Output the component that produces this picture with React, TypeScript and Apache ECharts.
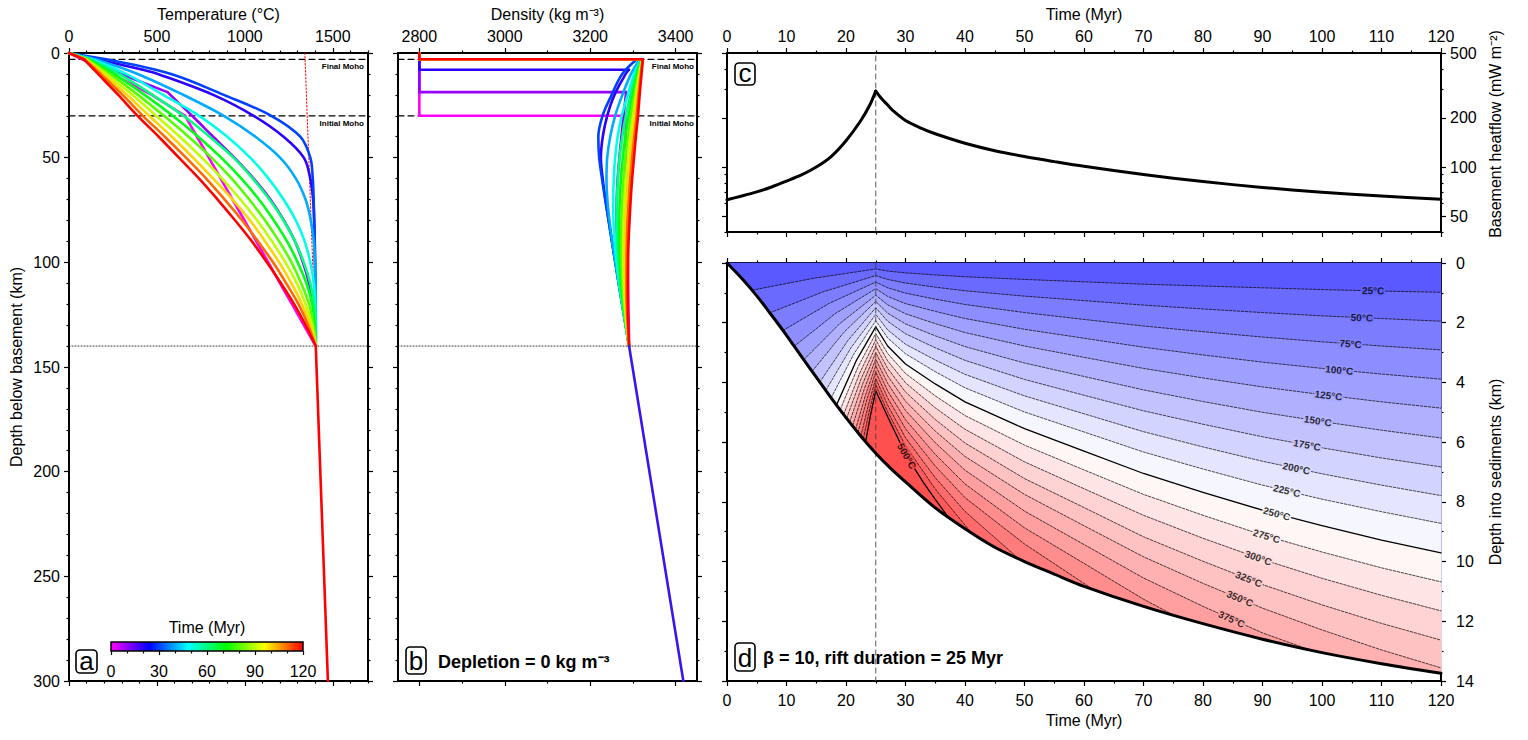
import React, { useEffect, useRef } from "react";
import * as echarts from "echarts";

const FONT = "'Liberation Sans', Arial, Helvetica, sans-serif";

// ================= Panel a: geotherms (temperature vs depth below basement) =================
const GEOTHERM_TIMES = [0, 10, 20, 30, 40, 50, 60, 70, 80, 90, 100, 110, 120];
const GEOTHERM_MOHO = [30, 18.7, 8, 3, 3, 3, 3, 3, 3, 3, 3, 3, 3];
const DEPTH_T0 = [0, 3, 10, 20, 30, 40, 50, 60, 70, 80, 90, 100, 110, 120, 130, 140];
const TEMP_T0 = [0, 75, 245, 470, 660, 728, 795, 863, 930, 998, 1065, 1133, 1200, 1268, 1335, 1403];
const DEPTH_T10 = [0, 3, 10, 18.7, 20, 30, 40, 50, 60, 70, 80, 90, 100, 110, 120, 130, 140];
const TEMP_T10 = [0, 90, 295, 560, 576, 700, 820, 940, 1050, 1145, 1222, 1285, 1330, 1365, 1390, 1400, 1403];
const DEPTH_T20 = [0, 3, 8, 10, 20, 30, 40, 50, 60, 70, 80, 90, 100, 110, 120, 130, 140];
const TEMP_T20 = [0, 160, 420, 505, 820, 1050, 1220, 1335, 1372, 1388, 1394, 1397, 1399, 1401, 1402, 1403, 1403];
const DEPTH_POSTRIFT = [0, 3, 10, 20, 30, 40, 50, 60, 70, 80, 90, 100, 110, 120, 130, 140];
const TEMP_T30 = [0, 210, 580, 880, 1150, 1315, 1372, 1386, 1391, 1394, 1397, 1399, 1401, 1402, 1403, 1403];
const TEMP_T40 = [0, 150, 390, 650, 880, 1060, 1200, 1290, 1345, 1375, 1392, 1399, 1402, 1403, 1403, 1403];
const TEMP_T50 = [0, 130, 325, 535, 740, 900, 1030, 1135, 1220, 1290, 1340, 1372, 1392, 1400, 1402, 1403];
const TEMP_T60 = [0, 118, 285, 475, 650, 800, 935, 1045, 1140, 1220, 1285, 1335, 1372, 1393, 1400, 1403];
const TEMP_T70 = [0, 110, 255, 430, 590, 735, 865, 980, 1080, 1165, 1240, 1300, 1350, 1383, 1397, 1403];
const TEMP_T80 = [0, 103, 232, 392, 540, 680, 810, 925, 1025, 1115, 1195, 1265, 1320, 1365, 1390, 1403];
const TEMP_T90 = [0, 97, 212, 360, 495, 630, 755, 870, 975, 1070, 1155, 1230, 1295, 1345, 1382, 1403];
const TEMP_T100 = [0, 92, 195, 330, 455, 585, 705, 820, 930, 1030, 1115, 1195, 1265, 1325, 1372, 1403];
const TEMP_T110 = [0, 88, 180, 305, 420, 545, 665, 780, 885, 985, 1075, 1160, 1235, 1305, 1360, 1403];
const TEMP_T120 = [0, 85, 165, 280, 390, 510, 625, 740, 845, 945, 1040, 1125, 1205, 1280, 1345, 1403];

// mantle adiabat (dotted above lithosphere base, solid below)
const ADIABAT_T = [1341, 1403, 1472];
const ADIABAT_DEPTH = [0, 140, 300];

// ================= Panel b: density =================
const DENS_DEPTH_T0 = [0, 30, 30, 40, 50, 60, 70, 80, 90, 100, 110, 120, 130, 140];
const DENS_T0 = [2800, 2800, 3282.4, 3283.1, 3284.0, 3284.8, 3285.5, 3286.3, 3287.1, 3287.9, 3288.7, 3289.4, 3290.3, 3291.0];
const DENS_DEPTH_T10 = [0, 18.7, 18.7, 20, 30, 40, 50, 60, 70, 80, 90, 100, 110, 120, 130, 140];
const DENS_T10 = [2800, 2800, 3284.1, 3283.4, 3278.1, 3273.1, 3268.2, 3264.3, 3262.1, 3261.8, 3263.1, 3266.4, 3270.6, 3276.1, 3283.2, 3291.0];
const DENS_DEPTH_T20 = [0, 8, 8, 10, 20, 30, 40, 50, 60, 70, 80, 90, 100, 110, 120, 130, 140];
const DENS_T20 = [2800, 2800, 3290.6, 3283.1, 3256.8, 3239.8, 3229.4, 3225.0, 3229.2, 3235.5, 3243.1, 3250.8, 3258.8, 3266.7, 3274.8, 3282.9, 3291.0];
const DENS_DEPTH_POSTRIFT = [0, 3, 3, 10, 20, 30, 40, 50, 60, 70, 80, 90, 100, 110, 120, 130, 140];
const DENS_T30 = [2800, 2800, 3309.5, 3274.9, 3250.2, 3228.9, 3219.0, 3221.0, 3227.6, 3235.2, 3243.1, 3250.8, 3258.8, 3266.7, 3274.8, 3282.9, 3291.0];
const DENS_T40 = [2800, 2800, 3316.0, 3295.6, 3275.3, 3258.4, 3246.8, 3239.8, 3238.1, 3240.2, 3245.1, 3251.4, 3258.8, 3266.6, 3274.7, 3282.9, 3291.0];
const DENS_T50 = [2800, 2800, 3318.2, 3302.7, 3287.9, 3273.7, 3264.3, 3258.3, 3255.1, 3253.9, 3254.4, 3257.1, 3261.8, 3267.7, 3275.0, 3283.0, 3291.0];
const DENS_T60 = [2800, 2800, 3319.5, 3307.1, 3294.4, 3283.5, 3275.2, 3268.7, 3264.9, 3262.6, 3262.1, 3263.1, 3265.8, 3269.9, 3275.8, 3283.2, 3291.0];
const DENS_T70 = [2800, 2800, 3320.4, 3310.4, 3299.3, 3290.1, 3282.3, 3276.3, 3272.0, 3269.2, 3268.1, 3268.0, 3269.6, 3272.3, 3276.9, 3283.5, 3291.0];
const DENS_T80 = [2800, 2800, 3321.2, 3312.9, 3303.5, 3295.5, 3288.3, 3282.3, 3278.0, 3275.2, 3273.5, 3272.9, 3273.5, 3275.6, 3278.8, 3284.3, 3291.0];
const DENS_T90 = [2800, 2800, 3321.8, 3315.0, 3307.0, 3300.4, 3293.8, 3288.4, 3284.0, 3280.6, 3278.5, 3277.3, 3277.3, 3278.3, 3281.0, 3285.2, 3291.0];
const DENS_T100 = [2800, 2800, 3322.4, 3316.9, 3310.3, 3304.8, 3298.7, 3293.8, 3289.5, 3285.5, 3282.8, 3281.6, 3281.1, 3281.6, 3283.2, 3286.3, 3291.0];
const DENS_T110 = [2800, 2800, 3322.8, 3318.5, 3313.0, 3308.6, 3303.1, 3298.2, 3293.8, 3290.5, 3287.7, 3286.0, 3284.9, 3284.8, 3285.4, 3287.6, 3291.0];
const DENS_T120 = [2800, 2800, 3323.1, 3320.2, 3315.7, 3311.9, 3306.9, 3302.5, 3298.2, 3294.8, 3292.1, 3289.8, 3288.7, 3288.1, 3288.1, 3289.2, 3291.0];
const DEEP_DENS = [3291, 3418];
const DEEP_DENS_DEPTH = [140, 300];

const MOHO_FINAL = 3;
const MOHO_INITIAL = 30;
const LITHOSPHERE_BASE = 140;

// ================= Panel c: basement heat flow =================
const HF_TIME = [0, 2.5, 5, 7.5, 10, 12.5, 15, 17.5, 20, 22.5, 24, 25, 26, 27, 28, 30, 32.5, 35, 40, 45, 50, 55, 60, 70, 80, 90, 100, 110, 120];
const HF_VALUE = [63, 66.5, 70.5, 75.5, 82, 89.5, 100, 116, 145, 193, 240, 292, 262, 240, 220, 193, 174, 160, 140, 126, 116, 108, 101, 90, 81.5, 75, 70, 66.5, 63.5];
const RIFT_END = 25;

// ================= Panel d: sediment temperatures =================
const BASEMENT_TIME = [0, 2.5, 5, 7.5, 10, 12.5, 15, 17.5, 20, 22.5, 25, 27.5, 30, 35, 40, 45, 50, 55, 60, 70, 80, 90, 100, 110, 120];
const BASEMENT_DEPTH = [0, 0.52, 1.1, 1.75, 2.42, 3.13, 3.82, 4.52, 5.18, 5.8, 6.37, 6.88, 7.33, 8.2, 8.9, 9.52, 10.0, 10.42, 10.83, 11.5, 12.08, 12.6, 13.05, 13.42, 13.74];

const ISO_25 = [[4.2, 0.91], [14.6, 0.51], [25, 0.2], [27, 0.27], [30, 0.33], [35, 0.4], [40, 0.46], [50, 0.55], [60, 0.63], [70, 0.71], [80, 0.77], [90, 0.83], [100, 0.89], [110, 0.94], [120, 0.98]];
const ISO_50 = [[7.2, 1.67], [16.1, 0.97], [25, 0.42], [27, 0.55], [30, 0.67], [35, 0.81], [40, 0.93], [50, 1.11], [60, 1.26], [70, 1.41], [80, 1.54], [90, 1.66], [100, 1.77], [110, 1.86], [120, 1.95]];
const ISO_75 = [[9.4, 2.26], [17.2, 1.35], [25, 0.64], [27, 0.83], [30, 1.01], [35, 1.21], [40, 1.39], [50, 1.66], [60, 1.89], [70, 2.11], [80, 2.3], [90, 2.48], [100, 2.64], [110, 2.78], [120, 2.91]];
const ISO_100 = [[11.3, 2.79], [18.15, 1.7], [25, 0.86], [27, 1.12], [30, 1.36], [35, 1.62], [40, 1.86], [50, 2.22], [60, 2.52], [70, 2.82], [80, 3.08], [90, 3.32], [100, 3.53], [110, 3.72], [120, 3.89]];
const ISO_125 = [[12.9, 3.24], [18.95, 2.03], [25, 1.08], [27, 1.4], [30, 1.7], [35, 2.03], [40, 2.33], [50, 2.78], [60, 3.16], [70, 3.53], [80, 3.85], [90, 4.15], [100, 4.41], [110, 4.65], [120, 4.86]];
const ISO_150 = [[14.3, 3.63], [19.65, 2.32], [25, 1.29], [27, 1.68], [30, 2.04], [35, 2.44], [40, 2.8], [50, 3.35], [60, 3.8], [70, 4.25], [80, 4.64], [90, 5.0], [100, 5.31], [110, 5.6], [120, 5.86]];
const ISO_175 = [[15.6, 3.99], [20.3, 2.6], [25, 1.5], [27, 1.95], [30, 2.37], [35, 2.84], [40, 3.26], [50, 3.9], [60, 4.43], [70, 4.95], [80, 5.4], [90, 5.82], [100, 6.19], [110, 6.53], [120, 6.83]];
const ISO_200 = [[16.6, 4.27], [20.8, 2.85], [25, 1.72], [27, 2.24], [30, 2.72], [35, 3.25], [40, 3.73], [50, 4.45], [60, 5.05], [70, 5.65], [80, 6.16], [90, 6.64], [100, 7.06], [110, 7.44], [120, 7.79]];
const ISO_225 = [[17.5, 4.52], [21.25, 3.07], [25, 1.93], [27, 2.51], [30, 3.04], [35, 3.64], [40, 4.18], [50, 4.99], [60, 5.66], [70, 6.33], [80, 6.9], [90, 7.44], [100, 7.91], [110, 8.33], [120, 8.72]];
const ISO_250 = [[18.4, 4.76], [21.7, 3.28], [25, 2.14], [27, 2.78], [30, 3.38], [35, 4.05], [40, 4.65], [50, 5.55], [60, 6.3], [70, 7.05], [80, 7.68], [90, 8.28], [100, 8.8], [110, 9.28], [120, 9.71]];
const ISO_275 = [[19.0, 4.92], [22.0, 3.49], [25, 2.36], [27, 3.03], [30, 3.7], [35, 4.45], [40, 5.11], [50, 6.1], [60, 6.93], [70, 7.75], [80, 8.45], [90, 9.11], [100, 9.68], [110, 10.21], [120, 10.68]];
const ISO_300 = [[19.6, 5.08], [22.3, 3.69], [25, 2.57], [27, 3.28], [30, 4.01], [35, 4.85], [40, 5.57], [50, 6.66], [60, 7.56], [70, 8.45], [80, 9.22], [90, 9.93], [100, 10.56], [110, 11.13], [120, 11.65]];
const ISO_325 = [[20.1, 5.2], [22.55, 3.87], [25, 2.79], [27, 3.53], [30, 4.32], [35, 5.24], [40, 6.03], [50, 7.22], [60, 8.19], [70, 9.17], [80, 9.99], [90, 10.77], [100, 11.45], [110, 12.07], [120, 12.63]];
const ISO_350 = [[20.6, 5.33], [22.8, 4.05], [25, 3.0], [27, 3.78], [30, 4.63], [35, 5.63], [40, 6.48], [50, 7.75], [60, 8.8], [70, 9.84], [80, 10.73], [90, 11.56], [100, 12.29], [110, 12.96], [120, 13.56]];
const ISO_375 = [[21.1, 5.45], [23.05, 4.23], [25, 3.22], [27, 4.03], [30, 4.94], [35, 6.02], [40, 6.94], [50, 8.31], [60, 9.43], [70, 10.55], [80, 11.5], [90, 12.39], [98, 12.96]];
const ISO_400 = [[21.6, 5.58], [23.3, 4.41], [25, 3.44], [27, 4.28], [30, 5.25], [35, 6.41], [40, 7.4], [50, 8.87], [60, 10.06], [70, 11.26], [75, 11.79]];
const ISO_425 = [[22.0, 5.68], [23.5, 4.58], [25, 3.65], [27, 4.52], [30, 5.55], [35, 6.8], [40, 7.86], [50, 9.41], [61.5, 10.93]];
const ISO_450 = [[22.5, 5.8], [23.75, 4.76], [25, 3.87], [27, 4.76], [30, 5.85], [35, 7.19], [40, 8.32], [49, 9.9]];
const ISO_475 = [[22.9, 5.89], [23.95, 4.92], [25, 4.08], [27, 4.98], [30, 6.12], [35, 7.57], [41, 9.02]];
const ISO_500 = [[23.3, 5.98], [24.15, 5.07], [25, 4.28], [27, 5.15], [30, 6.4], [33, 7.35], [35, 7.92], [37.2, 8.51]];

const ISO_TEMPS = [25, 50, 75, 100, 125, 150, 175, 200, 225, 250, 275, 300, 325, 350, 375, 400, 425, 450, 475, 500];
const ISO_LINES = [ISO_25, ISO_50, ISO_75, ISO_100, ISO_125, ISO_150, ISO_175, ISO_200, ISO_225, ISO_250, ISO_275, ISO_300, ISO_325, ISO_350, ISO_375, ISO_400, ISO_425, ISO_450, ISO_475, ISO_500];

const ISO_LABEL_TEMPS = [25, 50, 75, 100, 125, 150, 175, 200, 225, 250, 275, 300, 325, 350, 375, 500];
const ISO_LABEL_T = [108.6, 106.7, 104.8, 102.9, 101.1, 99.3, 97.5, 95.7, 94.1, 92.4, 90.7, 89.3, 87.7, 86.2, 84.8, 30.2];
const ISO_LABEL_D = [0.93, 1.83, 2.71, 3.59, 4.44, 5.29, 6.1, 6.88, 7.63, 8.4, 9.15, 9.88, 10.59, 11.24, 11.93, 6.47];
const ISO_LABEL_ROT = [-1.5, -2.6, -4, -5.4, -7, -9, -10.5, -12, -13.5, -15, -16.5, -19.5, -21.5, -22.5, -24, -60];

// ================= tick values =================
const TEMP_TICK_LABELS = [0, 500, 1000, 1500];
const DENS_TICK_LABELS = [2800, 3000, 3200, 3400];
const DEPTH_TICK_LABELS = [0, 50, 100, 150, 200, 250, 300];
const TIME_TICK_LABELS = [0, 10, 20, 30, 40, 50, 60, 70, 80, 90, 100, 110, 120];
const HF_TICK_LABELS = [50, 100, 200, 500];
const HF_MINOR_TICKS = [40, 60, 70, 80, 90, 300, 400];
const SED_TICK_LABELS = [0, 2, 4, 6, 8, 10, 12, 14];
const CBAR_TICK_LABELS = [0, 30, 60, 90, 120];

// ---------- helpers (styling / geometry only) ----------
const range = (a: number, b: number, s: number) => {
  const r: number[] = [];
  for (let v = a; v <= b + 1e-9; v += s) r.push(Math.round(v * 1000) / 1000);
  return r;
};
const minus = (arr: number[], ex: number[]) => arr.filter((v) => !ex.includes(v));
const zip = (xs: number[], ys: number[]) => xs.map((x, i) => [x, ys[i]]);

const RAINBOW: [number, number[]][] = [
  [0, [255, 0, 255]],
  [0.2, [0, 0, 255]],
  [0.4, [0, 255, 255]],
  [0.6, [0, 255, 0]],
  [0.8, [255, 255, 0]],
  [1, [255, 0, 0]],
];
function rainbow(f: number) {
  for (let i = 0; i < RAINBOW.length - 1; i++) {
    const [f0, c0] = RAINBOW[i];
    const [f1, c1] = RAINBOW[i + 1];
    if (f <= f1 + 1e-9) {
      const u = (f - f0) / (f1 - f0);
      const c = c0.map((v, k) => Math.round(v + (c1[k] - v) * u));
      return `rgb(${c.join(",")})`;
    }
  }
  return "rgb(255,0,0)";
}
function tempColor(T: number) {
  const cold = [80, 80, 255], white = [255, 255, 255], hot = [255, 80, 80];
  let a, b, f;
  if (T <= 250) { a = cold; b = white; f = Math.max(0, T) / 250; }
  else { a = white; b = hot; f = Math.min(1, (T - 250) / 250); }
  const c = a.map((v, i) => Math.round(v + (b[i] - v) * f));
  return `rgb(${c.join(",")})`;
}

function mkAxis(o: any) {
  const ax: any = {
    type: o.type || "value",
    gridIndex: o.grid,
    position: o.pos,
    min: o.min,
    max: o.max,
    inverse: !!o.inverse,
    axisLine: { show: !!o.line, onZero: false, lineStyle: { color: "#000", width: 2 } },
    axisTick: { show: true, inside: false, length: o.len, customValues: o.ticks, lineStyle: { color: "#000", width: 1.2 } },
    axisLabel: o.labels
      ? { show: true, customValues: o.labels, margin: o.margin, fontSize: 16, color: "#000", fontFamily: FONT, formatter: (v: number) => String(v) }
      : { show: false },
    splitLine: { show: false },
    minorTick: { show: false },
    name: o.name || "",
    nameLocation: "middle",
    nameGap: o.nameGap || 0,
    nameTextStyle: { fontSize: 16, color: "#000", fontFamily: FONT },
    silent: true,
  };
  if (o.type === "log") ax.logBase = 10;
  return ax;
}

function buildOption() {
  const xAxis: any[] = [];
  const yAxis: any[] = [];
  const pair = (list: any[], o: any, minors: number[]) => {
    list.push(mkAxis({ ...o, line: true, len: 5 }));
    const idx = list.length - 1;
    list.push(mkAxis({ ...o, labels: undefined, name: "", line: false, len: 2.5, ticks: minors }));
    return idx;
  };

  // Panel a
  const tempMinor = minus(range(0, 1700, 100), TEMP_TICK_LABELS);
  const depthMinor = minus(range(0, 300, 10), DEPTH_TICK_LABELS);
  const xa = pair(xAxis, { grid: 0, pos: "top", min: 0, max: 1700, ticks: TEMP_TICK_LABELS, labels: TEMP_TICK_LABELS, margin: 9, name: "Temperature (°C)", nameGap: 31 }, tempMinor);
  pair(xAxis, { grid: 0, pos: "bottom", min: 0, max: 1700, ticks: TEMP_TICK_LABELS }, tempMinor);
  const ya = pair(yAxis, { grid: 0, pos: "left", min: 0, max: 300, inverse: true, ticks: DEPTH_TICK_LABELS, labels: DEPTH_TICK_LABELS, margin: 9, name: "Depth below basement (km)", nameGap: 45 }, depthMinor);
  pair(yAxis, { grid: 0, pos: "right", min: 0, max: 300, inverse: true, ticks: DEPTH_TICK_LABELS }, depthMinor);

  // Panel b
  const densMinor = [2900, 3100, 3300];
  const xb = pair(xAxis, { grid: 1, pos: "top", min: 2750, max: 3450, ticks: DENS_TICK_LABELS, labels: DENS_TICK_LABELS, margin: 9, name: "Density (kg m⁻³)", nameGap: 31 }, densMinor);
  pair(xAxis, { grid: 1, pos: "bottom", min: 2750, max: 3450, ticks: DENS_TICK_LABELS }, densMinor);
  const yb = pair(yAxis, { grid: 1, pos: "left", min: 0, max: 300, inverse: true, ticks: DEPTH_TICK_LABELS }, depthMinor);
  pair(yAxis, { grid: 1, pos: "right", min: 0, max: 300, inverse: true, ticks: DEPTH_TICK_LABELS }, depthMinor);

  // Panel c
  const timeMinor = range(5, 115, 10);
  const xc = pair(xAxis, { grid: 2, pos: "top", min: 0, max: 120, ticks: TIME_TICK_LABELS, labels: TIME_TICK_LABELS, margin: 9, name: "Time (Myr)", nameGap: 31 }, timeMinor);
  pair(xAxis, { grid: 2, pos: "bottom", min: 0, max: 120, ticks: TIME_TICK_LABELS }, timeMinor);
  const yc = pair(yAxis, { grid: 2, type: "log", pos: "right", min: 40, max: 500, ticks: HF_TICK_LABELS, labels: HF_TICK_LABELS, margin: 9 }, HF_MINOR_TICKS);
  pair(yAxis, { grid: 2, type: "log", pos: "left", min: 40, max: 500, ticks: HF_TICK_LABELS }, HF_MINOR_TICKS);

  // Panel d
  const sedMinor = range(1, 13, 2);
  const xd = pair(xAxis, { grid: 3, pos: "bottom", min: 0, max: 120, ticks: TIME_TICK_LABELS, labels: TIME_TICK_LABELS, margin: 11, name: "Time (Myr)", nameGap: 30 }, timeMinor);
  pair(xAxis, { grid: 3, pos: "top", min: 0, max: 120, ticks: TIME_TICK_LABELS }, timeMinor);
  const yd = pair(yAxis, { grid: 3, pos: "right", min: 0, max: 14, inverse: true, ticks: SED_TICK_LABELS, labels: SED_TICK_LABELS, margin: 15 }, sedMinor);
  pair(yAxis, { grid: 3, pos: "left", min: 0, max: 14, inverse: true, ticks: SED_TICK_LABELS }, sedMinor);

  // Colour bar
  xAxis.push(mkAxis({ grid: 4, pos: "bottom", min: 0, max: 120, ticks: CBAR_TICK_LABELS, labels: CBAR_TICK_LABELS, margin: 12, len: 4 }));
  const xcb = xAxis.length - 1;
  xAxis.push(mkAxis({ grid: 4, pos: "bottom", min: 0, max: 120, ticks: minus(range(0, 120, 10), CBAR_TICK_LABELS), len: 2.5 }));
  yAxis.push({ type: "value", gridIndex: 4, min: 0, max: 1, show: false });
  const ycb = yAxis.length - 1;

  const line = (data: any[], xi: number, yi: number, color: string, width: number, type: any = "solid", z = 3, smooth: any = false) => ({
    type: "line",
    data,
    xAxisIndex: xi,
    yAxisIndex: yi,
    showSymbol: false,
    symbol: "none",
    silent: true,
    z,
    smooth,
    lineStyle: { color, width, type, cap: "round", join: "round" },
  });

  const series: any[] = [];

  // ---- Panel a ----
  series.push(line([[0, MOHO_FINAL], [1700, MOHO_FINAL]], xa, ya, "#000", 1.2, [6, 4], 2));
  series.push(line([[0, MOHO_INITIAL], [1700, MOHO_INITIAL]], xa, ya, "#000", 1.2, [6, 4], 2));
  series.push(line([[0, LITHOSPHERE_BASE], [1700, LITHOSPHERE_BASE]], xa, ya, "#000", 0.8, [1, 2], 2));
  series.push(line(zip(ADIABAT_T.slice(0, 2), ADIABAT_DEPTH.slice(0, 2)), xa, ya, "#ff0000", 1, [1.5, 2], 2));
  const geoDepth = [DEPTH_T0, DEPTH_T10, DEPTH_T20, DEPTH_POSTRIFT, DEPTH_POSTRIFT, DEPTH_POSTRIFT, DEPTH_POSTRIFT, DEPTH_POSTRIFT, DEPTH_POSTRIFT, DEPTH_POSTRIFT, DEPTH_POSTRIFT, DEPTH_POSTRIFT, DEPTH_POSTRIFT];
  const geoTemp = [TEMP_T0, TEMP_T10, TEMP_T20, TEMP_T30, TEMP_T40, TEMP_T50, TEMP_T60, TEMP_T70, TEMP_T80, TEMP_T90, TEMP_T100, TEMP_T110, TEMP_T120];
  GEOTHERM_TIMES.forEach((t, i) => {
    const pts = zip(geoTemp[i], geoDepth[i]);
    const k = geoDepth[i].indexOf(GEOTHERM_MOHO[i]);
    const col = rainbow(t / 120);
    series.push(line(pts.slice(0, k + 1), xa, ya, col, 2.6, "solid", 3));
    series.push(line(pts.slice(k), xa, ya, col, 2.6, "solid", 3, 0.35));
  });
  series.push(line(zip(ADIABAT_T.slice(1), ADIABAT_DEPTH.slice(1)), xa, ya, "#ff0000", 2.6, "solid", 3));

  // ---- Panel b ----
  series.push(line([[2750, MOHO_FINAL], [3450, MOHO_FINAL]], xb, yb, "#000", 1.2, [6, 4], 2));
  series.push(line([[2750, MOHO_INITIAL], [3450, MOHO_INITIAL]], xb, yb, "#000", 1.2, [6, 4], 2));
  series.push(line([[2750, LITHOSPHERE_BASE], [3450, LITHOSPHERE_BASE]], xb, yb, "#000", 0.8, [1, 2], 2));
  const densDepth = [DENS_DEPTH_T0, DENS_DEPTH_T10, DENS_DEPTH_T20, DENS_DEPTH_POSTRIFT, DENS_DEPTH_POSTRIFT, DENS_DEPTH_POSTRIFT, DENS_DEPTH_POSTRIFT, DENS_DEPTH_POSTRIFT, DENS_DEPTH_POSTRIFT, DENS_DEPTH_POSTRIFT, DENS_DEPTH_POSTRIFT, DENS_DEPTH_POSTRIFT, DENS_DEPTH_POSTRIFT];
  const densVal = [DENS_T0, DENS_T10, DENS_T20, DENS_T30, DENS_T40, DENS_T50, DENS_T60, DENS_T70, DENS_T80, DENS_T90, DENS_T100, DENS_T110, DENS_T120];
  GEOTHERM_TIMES.forEach((t, i) => {
    const pts = zip(densVal[i], densDepth[i]);
    const col = rainbow(t / 120);
    series.push(line(pts.slice(0, 3), xb, yb, col, 2.6, "solid", 3));
    series.push(line(pts.slice(2), xb, yb, col, 2.6, "solid", 3, 0.35));
  });
  series.push(line(zip(DEEP_DENS, DEEP_DENS_DEPTH), xb, yb, "#3c14f0", 2.6, "solid", 3));

  // ---- Panel c ----
  const hfPts = zip(HF_TIME, HF_VALUE);
  const peak = HF_TIME.indexOf(RIFT_END);
  series.push(line([[RIFT_END, 40], [RIFT_END, 500]], xc, yc, "#444", 0.9, [5, 4], 2));
  series.push(line(hfPts.slice(0, peak + 1), xc, yc, "#000", 3, "solid", 3, 0.3));
  series.push(line(hfPts.slice(peak), xc, yc, "#000", 3, "solid", 3, 0.3));

  // ---- Panel d fills ----
  const bEnd = BASEMENT_DEPTH[BASEMENT_DEPTH.length - 1];
  const basementBack = (t0: number, t1: number) => {
    const pts: number[][] = [];
    for (let i = BASEMENT_TIME.length - 1; i >= 0; i--) {
      const t = BASEMENT_TIME[i];
      if (t > t0 + 1e-9 && t < t1 - 1e-9) pts.push([t, BASEMENT_DEPTH[i]]);
    }
    return pts;
  };
  const polys: { pts: number[][]; color: string }[] = [];
  polys.push({
    pts: [[0, 0], [120, 0], [120, bEnd], ...basementBack(0, 120)],
    color: tempColor(12.5),
  });
  ISO_LINES.forEach((iso, k) => {
    const T = ISO_TEMPS[k];
    const first = iso[0];
    const last = iso[iso.length - 1];
    const pts = iso.map((p) => [p[0], p[1]]);
    let tEnd = last[0];
    if (last[0] >= 120) { pts.push([120, bEnd]); tEnd = 120; }
    pts.push(...basementBack(first[0], tEnd));
    polys.push({ pts, color: tempColor(T >= 500 ? 500 : T + 12.5) });
  });
  series.push({
    type: "custom",
    xAxisIndex: xd,
    yAxisIndex: yd,
    silent: true,
    z: 1,
    data: polys.map((p, i) => [p.pts[0][0], p.pts[0][1], i]),
    renderItem: (params: any, api: any) => {
      const poly = polys[params.dataIndex];
      return {
        type: "polygon",
        shape: { points: poly.pts.map((p) => api.coord(p)) },
        style: { fill: poly.color, stroke: poly.color, lineWidth: 0.5 },
      };
    },
  });
  ISO_LINES.forEach((iso, k) => {
    const T = ISO_TEMPS[k];
    const solid = T === 250 || T === 500;
    series.push(line(iso, xd, yd, "#000", solid ? 1.3 : 0.7, solid ? "solid" : [2.5, 1.5], 2));
  });
  series.push(line([[RIFT_END, 0], [RIFT_END, 14]], xd, yd, "#444", 0.9, [5, 4], 3));
  series.push(line(zip(BASEMENT_TIME, BASEMENT_DEPTH), xd, yd, "#000", 3, "solid", 4, 0.3));
  series.push({
    type: "scatter",
    xAxisIndex: xd,
    yAxisIndex: yd,
    symbolSize: 1,
    itemStyle: { color: "rgba(0,0,0,0)" },
    silent: true,
    z: 6,
    data: ISO_LABEL_TEMPS.map((T, i) => ({
      value: [ISO_LABEL_T[i], ISO_LABEL_D[i]],
      label: {
        show: true,
        position: "inside",
        formatter: `${T}°C`,
        rotate: ISO_LABEL_ROT[i],
        backgroundColor: tempColor(T),
        padding: [0, 1],
        fontSize: 10,
        fontWeight: "bold",
        color: "#000",
        fontFamily: FONT,
      },
    })),
  });

  // ---- colour bar ----
  series.push({
    type: "custom",
    xAxisIndex: xcb,
    yAxisIndex: ycb,
    silent: true,
    z: 5,
    data: [[0, 0]],
    renderItem: (params: any, api: any) => {
      const p0 = api.coord([0, 1]);
      const p1 = api.coord([120, 0]);
      return {
        type: "rect",
        shape: { x: p0[0], y: p0[1], width: p1[0] - p0[0], height: p1[1] - p0[1] },
        style: {
          fill: new echarts.graphic.LinearGradient(0, 0, 1, 0, RAINBOW.map(([o, c]) => ({ offset: o, color: `rgb(${c.join(",")})` }))),
          stroke: "#000",
          lineWidth: 1.5,
        },
      };
    },
  });

  const txt = (text: string, x: number, y: number, font: string, align = "left", rotation = 0) => ({
    type: "text",
    x,
    y,
    rotation,
    silent: true,
    z: 100,
    style: { text, font, fill: "#000", align, verticalAlign: "middle" },
  });
  const box = (x: number, y: number, w: number, h: number) => ({
    type: "rect",
    silent: true,
    z: 99,
    shape: { x, y, width: w, height: h, r: 4 },
    style: { fill: "#fff", stroke: "#000", lineWidth: 1.6 },
  });
  const LF = `26px ${FONT}`;
  const graphic: any[] = [
    box(76, 650, 21, 23), txt("a", 86.5, 661, LF, "center"),
    box(406, 647, 20, 27), txt("b", 416, 661, LF, "center"),
    box(735, 63, 20, 22), txt("c", 745, 72.5, LF, "center"),
    box(735, 643, 20, 28), txt("d", 745, 658, LF, "center"),
    txt("Depletion = 0 kg m⁻³", 438, 662, `bold 18px ${FONT}`),
    txt("β = 10, rift duration = 25 Myr", 763, 657.5, `bold 18px ${FONT}`),
    txt("Final Moho", 364, 66.5, `bold 8px ${FONT}`, "right"),
    txt("Initial Moho", 364, 123.5, `bold 8px ${FONT}`, "right"),
    txt("Final Moho", 694, 66.5, `bold 8px ${FONT}`, "right"),
    txt("Initial Moho", 694, 123.5, `bold 8px ${FONT}`, "right"),
    txt("Time (Myr)", 207, 627.5, `16px ${FONT}`, "center"),
    txt("Basement heatflow (mW m⁻²)", 1495, 134, `16px ${FONT}`, "center", Math.PI / 2),
    txt("Depth into sediments (km)", 1495, 472, `16px ${FONT}`, "center", Math.PI / 2),
  ];

  return {
    animation: false,
    backgroundColor: "#fff",
    textStyle: { fontFamily: FONT },
    grid: [
      { left: 69, top: 53, width: 299, height: 628 },
      { left: 398, top: 53, width: 299, height: 628 },
      { left: 727, top: 53, width: 714, height: 179 },
      { left: 727, top: 263, width: 714, height: 418 },
      { left: 111, top: 642, width: 192, height: 9 },
    ],
    xAxis,
    yAxis,
    series,
    graphic,
  };
}

export default function App() {
  const ref = useRef<HTMLDivElement>(null);
  useEffect(() => {
    const chart = echarts.init(ref.current as HTMLDivElement, undefined, { renderer: "svg" });
    chart.setOption(buildOption() as any);
    return () => chart.dispose();
  }, []);
  return (
    <div
      ref={ref}
      style={{ position: "fixed", left: 0, top: 0, width: 1528, height: 740, background: "#fff" }}
    />
  );
}
